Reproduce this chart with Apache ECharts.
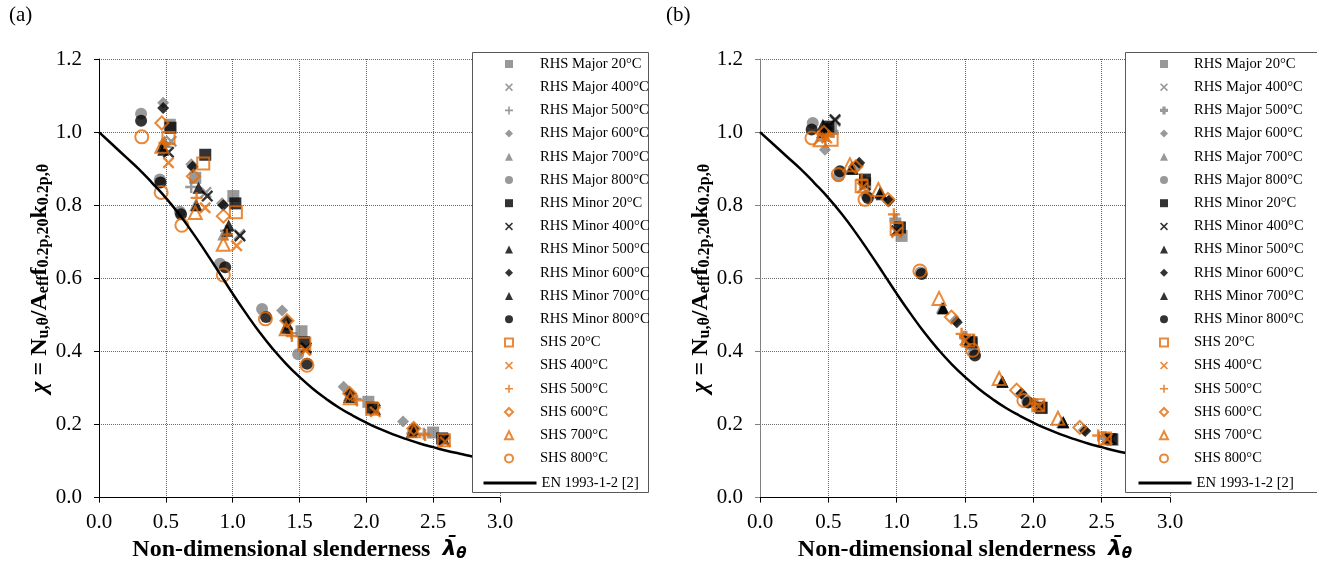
<!DOCTYPE html>
<html><head><meta charset="utf-8">
<script src="https://cdn.jsdelivr.net/npm/echarts@6/dist/echarts.min.js"></script>
<style>html,body{margin:0;padding:0;background:#fff}#c{width:1317px;height:567px}</style>
</head><body><div id="c"></div><script>
// ---------------- DATA ----------------
const seriesNames = ['RHS Major 20°C','RHS Major 400°C','RHS Major 500°C','RHS Major 600°C','RHS Major 700°C','RHS Major 800°C',
  'RHS Minor 20°C','RHS Minor 400°C','RHS Minor 500°C','RHS Minor 600°C','RHS Minor 700°C','RHS Minor 800°C',
  'SHS 20°C','SHS 400°C','SHS 500°C','SHS 600°C','SHS 700°C','SHS 800°C'];
const curveName = 'EN 1993-1-2 [2]';
const xTicks = [0, 0.5, 1.0, 1.5, 2.0, 2.5, 3.0];
const yTicks = [0, 0.2, 0.4, 0.6, 0.8, 1.0, 1.2];

// Panel (a) points [lambda, chi]
const aMaj20  = [[0.53,1.02],[0.72,0.875],[1.005,0.825],[1.515,0.455],[2.015,0.262],[2.50,0.178]];
const aMaj400 = [[0.54,0.975],[0.80,0.835],[1.05,0.72],[1.55,0.405],[2.06,0.245],[2.58,0.16]];
const aMaj500 = [[0.50,0.96],[0.69,0.85],[0.95,0.73],[1.44,0.45],[1.92,0.27],[2.43,0.175]];
const aMaj600 = [[0.48,1.08],[0.69,0.912],[0.92,0.805],[1.37,0.512],[1.83,0.303],[2.275,0.208]];
const aMaj700 = [[0.49,0.975],[0.72,0.80],[0.93,0.72],[1.40,0.47],[1.87,0.28],[2.34,0.19]];
const aMaj800 = [[0.315,1.05],[0.455,0.87],[0.605,0.782],[0.905,0.64],[1.22,0.516],[1.49,0.392]];
const aMin20  = [[0.535,1.012],[0.795,0.938],[1.02,0.805],[1.535,0.425],[2.043,0.246],[2.567,0.162]];
const aMin400 = [[0.52,0.945],[0.81,0.825],[1.055,0.716],[1.55,0.41],[2.065,0.24],[2.58,0.158]];
const aMin500 = [[0.48,0.952],[0.745,0.848],[0.97,0.745],[1.41,0.475],[1.88,0.28],[2.35,0.186]];
const aMin600 = [[0.48,1.066],[0.70,0.905],[0.93,0.80],[1.405,0.484],[1.875,0.285],[2.355,0.189]];
const aMin700 = [[0.475,0.96],[0.73,0.80],[0.96,0.73],[1.40,0.465],[1.87,0.275],[2.34,0.18]];
const aMin800 = [[0.315,1.031],[0.46,0.862],[0.614,0.775],[0.944,0.63],[1.25,0.494],[1.556,0.366]];
const aShs20  = [[0.52,0.984],[0.78,0.914],[1.024,0.781],[1.536,0.421],[2.043,0.243],[2.58,0.157]];
const aShs400 = [[0.52,0.916],[0.794,0.793],[1.03,0.689],[1.543,0.403],[2.067,0.235],[2.59,0.153]];
const aShs500 = [[0.49,0.97],[0.73,0.82],[0.957,0.72],[1.443,0.442],[1.93,0.266],[2.44,0.171]];
const aShs600 = [[0.47,1.025],[0.706,0.879],[0.93,0.77],[1.406,0.484],[1.875,0.285],[2.355,0.189]];
const aShs700 = [[0.47,0.961],[0.72,0.78],[0.93,0.693],[1.40,0.462],[1.88,0.273],[2.355,0.183]];
const aShs800 = [[0.32,0.987],[0.465,0.835],[0.62,0.745],[0.93,0.609],[1.245,0.489],[1.556,0.362]];

// Panel (b) points [lambda, chi]
const bMaj20  = [[0.52,1.01],[0.77,0.86],[1.036,0.716],[1.55,0.42],[2.06,0.245],[2.58,0.158]];
const bMaj400 = [[0.55,1.03],[0.77,0.86],[1.02,0.74],[1.53,0.425],[2.05,0.245],[2.57,0.16]];
const bMaj500 = [[0.53,1.0],[0.76,0.865],[0.99,0.76],[1.50,0.44],[2.02,0.255],[2.52,0.165]];
const bMaj600 = [[0.475,0.952],[0.72,0.91],[0.94,0.81],[1.43,0.485],[1.91,0.285],[2.37,0.185]];
const bMaj700 = [[0.45,0.99],[0.67,0.905],[0.88,0.835],[1.33,0.52],[1.77,0.318],[2.21,0.207]];
const bMaj800 = [[0.386,1.025],[0.575,0.879],[0.78,0.825],[1.175,0.616],[1.565,0.395],[1.955,0.262]];
const bMin20  = [[0.50,1.015],[0.768,0.87],[1.024,0.739],[1.548,0.425],[2.06,0.246],[2.573,0.16]];
const bMin400 = [[0.549,1.034],[0.77,0.855],[1.0,0.73],[1.53,0.43],[2.045,0.25],[2.56,0.16]];
const bMin500 = [[0.46,1.02],[0.68,0.90],[0.89,0.83],[1.34,0.518],[1.775,0.317],[2.22,0.206]];
const bMin600 = [[0.49,1.01],[0.726,0.916],[0.945,0.813],[1.44,0.48],[1.914,0.285],[2.38,0.182]];
const bMin700 = [[0.455,1.0],[0.67,0.90],[0.88,0.835],[1.34,0.518],[1.775,0.317],[2.22,0.206]];
const bMin800 = [[0.378,1.007],[0.585,0.893],[0.79,0.82],[1.183,0.612],[1.573,0.389],[1.963,0.26]];
const bShs20  = [[0.524,0.979],[0.744,0.852],[1.0,0.735],[1.524,0.43],[2.036,0.253],[2.524,0.162]];
const bShs400 = [[0.488,0.984],[0.75,0.848],[1.0,0.725],[1.50,0.43],[2.04,0.25],[2.54,0.16]];
const bShs500 = [[0.50,0.99],[0.744,0.87],[0.98,0.775],[1.475,0.448],[2.01,0.257],[2.475,0.17]];
const bShs600 = [[0.468,0.999],[0.70,0.905],[0.936,0.816],[1.40,0.494],[1.878,0.294],[2.34,0.192]];
const bShs700 = [[0.44,0.979],[0.658,0.911],[0.866,0.843],[1.31,0.545],[1.75,0.326],[2.18,0.217]];
const bShs800 = [[0.38,0.984],[0.573,0.884],[0.768,0.816],[1.17,0.62],[1.556,0.403],[1.931,0.266]];

// EN 1993-1-2 curve
const curveLambda = [0,0.1,0.2,0.3,0.4,0.5,0.6,0.7,0.8,0.9,1.0,1.1,1.2,1.3,1.4,1.5,1.6,1.7,1.8,1.9,2.0,2.1,2.2,2.3,2.4,2.5,2.6,2.7,2.8,2.9,3.0];
const curveChi    = [1.000,0.966,0.932,0.898,0.860,0.820,0.775,0.725,0.671,0.615,0.558,0.504,0.453,0.407,0.366,0.330,0.298,0.270,0.245,0.224,0.205,0.188,0.173,0.160,0.148,0.138,0.128,0.120,0.112,0.105,0.098];

// ---------------- STYLE ----------------
const FONT = '"Liberation Serif","Times New Roman",serif';
const GREEK = '"DejaVu Sans",sans-serif';
const GRAY = '#808080', BLACK = '#000000', ORANGE = '#E36C09';
const GRID_COL = '#6a6a6a';
const CROSS = 'path://M1.4,0L5,3.6L8.6,0L10,1.4L6.4,5L10,8.6L8.6,10L5,6.4L1.4,10L0,8.6L3.6,5L0,1.4Z';
const PLUS = 'path://M4,0L6,0L6,4L10,4L10,6L6,6L6,10L4,10L4,6L0,6L0,4L4,4Z';
const FATPLUS = 'path://M3,0L7,0L7,3L10,3L10,7L7,7L7,10L3,10L3,7L0,7L0,3L3,3Z';
const spec = [
  {s:'rect',c:GRAY,z:12},{s:CROSS,c:GRAY,z:12},{s:PLUS,c:GRAY,z:12},{s:'diamond',c:GRAY,z:12},{s:'triangle',c:GRAY,z:12},{s:'circle',c:GRAY,z:12},
  {s:'rect',c:BLACK,z:12},{s:CROSS,c:BLACK,z:12},{s:'triangle',c:BLACK,z:12},{s:'diamond',c:BLACK,z:12},{s:'triangle',c:BLACK,z:12},{s:'circle',c:BLACK,z:12},
  {s:'rect',c:ORANGE,z:12,h:1},{s:CROSS,c:ORANGE,z:12},{s:PLUS,c:ORANGE,z:12},{s:'diamond',c:ORANGE,z:13,h:1},{s:'triangle',c:ORANGE,z:13,h:1},{s:'circle',c:ORANGE,z:13,h:1}
];
const aData = [aMaj20,aMaj400,aMaj500,aMaj600,aMaj700,aMaj800,aMin20,aMin400,aMin500,aMin600,aMin700,aMin800,aShs20,aShs400,aShs500,aShs600,aShs700,aShs800];
const bData = [bMaj20,bMaj400,bMaj500,bMaj600,bMaj700,bMaj800,bMin20,bMin400,bMin500,bMin600,bMin700,bMin800,bShs20,bShs400,bShs500,bShs600,bShs700,bShs800];

function scatter(panel, i, data){
  const sp = spec[i];
  const idx = panel === 'a' ? 0 : 1;
  let sym = sp.s;
  if (panel === 'b' && i === 2) sym = FATPLUS;
  return {
    type:'scatter', name: panel + ':' + seriesNames[i], xAxisIndex: idx, yAxisIndex: idx,
    data: data, symbol: sym, symbolSize: sp.z, silent: true, z: 2,
    itemStyle: sp.h ? {color:'rgba(0,0,0,0)', borderColor: sp.c, borderWidth: 2} : {color: sp.c}
  };
}
function curve(panel){
  const idx = panel === 'a' ? 0 : 1;
  return {type:'line', name: panel + ':' + curveName, xAxisIndex: idx, yAxisIndex: idx,
    data: curveLambda.map((l,k)=>[l, curveChi[k]]), symbol:'none', smooth: true, silent:true, z:3,
    itemStyle:{color:'#000'}, lineStyle:{color:'#000', width:2.5}};
}
const series = [];
aData.forEach((d,i)=>series.push(scatter('a',i,d)));
series.push(curve('a'));
bData.forEach((d,i)=>series.push(scatter('b',i,d)));
series.push(curve('b'));

const xName = 'Non-dimensional slenderness  {lam|λ̄}{th|θ}';
const yName = '{chi|χ} = N{s|u,θ}/A{s|eff}f{s|0.2p,20}k{s|0.2p,θ}';
function xAx(g, col){
  return {type:'value', gridIndex:g, min:xTicks[0], max:xTicks[xTicks.length-1], interval:0.5,
    name:xName, nameLocation:'middle', nameGap:38,
    nameTextStyle:{fontFamily:FONT, fontSize:24, fontWeight:'bold', color:'#000',
      rich:{lam:{fontFamily:GREEK,fontSize:22,fontWeight:'bold',fontStyle:'italic',color:'#000'},
            th:{fontFamily:GREEK,fontSize:15,fontWeight:'bold',fontStyle:'italic',color:'#000',padding:[10,0,0,0]}}},
    axisLine:{show:true,onZero:false,lineStyle:{color:col,width:1}},
    axisTick:{show:true,inside:false,length:5,lineStyle:{color:col}},
    axisLabel:{margin:14,fontFamily:FONT,fontSize:21,color:'#000',formatter:v=>v.toFixed(1)},
    splitLine:{show:true,lineStyle:{color:GRID_COL,type:'dotted',width:1}}};
}
function yAx(g, col){
  return {type:'value', gridIndex:g, min:yTicks[0], max:yTicks[yTicks.length-1], interval:0.2,
    name:yName, nameLocation:'middle', nameGap:46, nameRotate:90,
    nameTextStyle:{fontFamily:FONT, fontSize:24, fontWeight:'bold', color:'#000',
      rich:{chi:{fontFamily:FONT,fontSize:24,fontWeight:'bold',fontStyle:'italic',color:'#000'},
            s:{fontFamily:FONT,fontSize:16,fontWeight:'bold',color:'#000',padding:[9,0,0,0]}}},
    axisLine:{show:true,onZero:false,lineStyle:{color:col,width:1}},
    axisTick:{show:true,inside:false,length:5,lineStyle:{color:col}},
    axisLabel:{margin:17,fontFamily:FONT,fontSize:21,color:'#000',formatter:v=>v.toFixed(1)},
    splitLine:{show:true,lineStyle:{color:GRID_COL,type:'dotted',width:1}}};
}
function scatterLegend(panel, left, pad){
  return {orient:'vertical', left:left, top:56, itemWidth:8, itemHeight:8, itemGap:7.2, z:10,
    selectedMode:false, padding:0,
    data: seriesNames.map(n=>panel+':'+n), formatter: n=>n.slice(2),
    textStyle:{fontFamily:FONT, fontSize:14.6, color:'#000', lineHeight:16, padding:[0,0,0,pad]}};
}
function lineLegend(panel, left){
  return {orient:'vertical', left:left, top:475, itemWidth:53, itemHeight:14, z:10, selectedMode:false, padding:0,
    data:[panel+':'+curveName], formatter:n=>n.slice(2),
    lineStyle:{width:3, color:'#000'}, itemStyle:{opacity:0},
    textStyle:{fontFamily:FONT, fontSize:14.6, color:'#000', lineHeight:16}};
}

const option = {
  animation:false,
  backgroundColor:'#fff',
  title:[
    {text:'(a)', left:9, top:5, padding:0, textStyle:{fontFamily:FONT,fontSize:21,fontWeight:'normal',color:'#000'}},
    {text:'(b)', left:666, top:5, padding:0, textStyle:{fontFamily:FONT,fontSize:21,fontWeight:'normal',color:'#000'}}
  ],
  grid:[
    {left:99, top:59, width:401, height:440.5},
    {left:760, top:59, width:410, height:440.5}
  ],
  xAxis:[xAx(0,'#000'), xAx(1,'#000')],
  yAxis:[yAx(0,'#000'), yAx(1,'#808080')],
  legend:[scatterLegend('a',504,22), lineLegend('a',482), scatterLegend('b',1159,21), lineLegend('b',1137)],
  graphic:[
    {type:'rect', z:5, shape:{x:472.5,y:52.5,width:176,height:440}, style:{fill:'#fff',stroke:'#595959',lineWidth:1}},
    {type:'rect', z:5, shape:{x:1125.5,y:52.5,width:220,height:440}, style:{fill:'#fff',stroke:'#595959',lineWidth:1}}
  ],
  series: series
};
const chart = echarts.init(document.getElementById('c'), null, {renderer:'canvas'});
chart.setOption(option);
</script></body></html>
